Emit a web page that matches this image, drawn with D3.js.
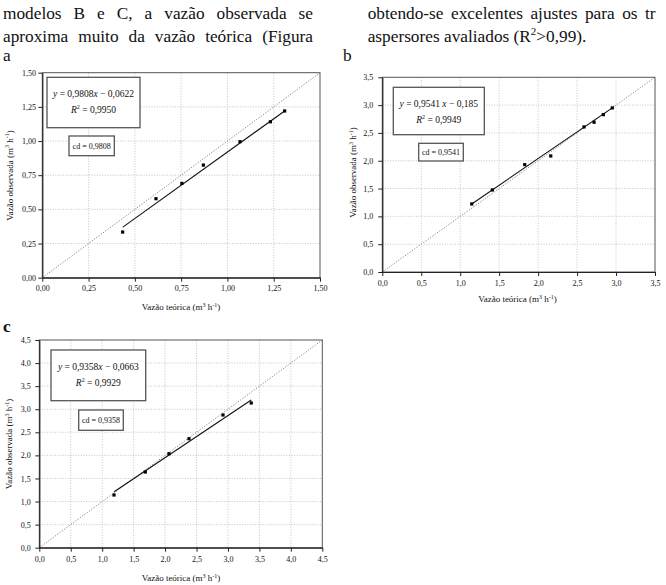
<!DOCTYPE html>
<html><head><meta charset="utf-8">
<script src="https://cdn.jsdelivr.net/npm/d3@7"></script>
<style>
body{margin:0;background:#fff}
svg{display:block}
text{font-family:"Liberation Serif","Times New Roman",serif;fill:#111}
</style>
</head><body>
<svg id="c" width="666" height="585"></svg>
<script>
// ---------- data ----------
const aTeorica   = [0.434, 0.614, 0.754, 0.870, 1.068, 1.232, 1.309];
const aObservada = [0.334, 0.578, 0.690, 0.824, 0.995, 1.141, 1.220];
const bTeorica   = [1.148, 1.412, 1.828, 2.162, 2.589, 2.718, 2.837, 2.952];
const bObservada = [1.223, 1.475, 1.930, 2.086, 2.608, 2.692, 2.829, 2.950];
const cTeorica   = [1.188, 1.685, 2.062, 2.380, 2.921, 3.370];
const cObservada = [1.142, 1.640, 2.036, 2.361, 2.875, 3.135];

// fitted line end points as drawn [x, y]
const aTrend = [[0.435, 0.370], [1.309, 1.220]];
const bTrend = [[1.148, 1.223], [2.952, 2.950]];
const cTrend = [[1.190, 1.213], [3.370, 3.200]];

const aTicks = ["0,00","0,25","0,50","0,75","1,00","1,25","1,50"];
const bTicks = ["0,0","0,5","1,0","1,5","2,0","2,5","3,0","3,5"];
const cTicks = ["0,0","0,5","1,0","1,5","2,0","2,5","3,0","3,5","4,0","4,5"];

const aEq = ["0,9808", "x", "0,0622", "0,9950", "0,9808"];
const bEq = ["0,9541", " x", "0,185",  "0,9949", "0,9541"];
const cEq = ["0,9358", "x", "0,0663", "0,9929", "0,9358"];

const leftPara  = ["modelos B e C, a vazão observada se", "aproxima muito da vazão teórica (Figura"];
const rightPara = ["obtendo-se excelentes ajustes para os tr", "aspersores avaliados (R"];
const panelLabels = ["a", "b", "c"];

// ---------- drawing ----------
const svg = d3.select("#c");
const num = s => +s.replace(",", ".");
const FS = 17.3;

function justify(line, x0, x1, y, lastStart) {
  const words = line.split(" ");
  const t = words.map(w => svg.append("text").attr("y", y).attr("font-size", FS).text(w));
  const w = t.map(s => s.node().getComputedTextLength());
  let gap;
  if (lastStart != null) gap = (lastStart - x0 - d3.sum(w.slice(0, -1))) / (words.length - 1);
  else gap = (x1 - x0 - d3.sum(w)) / (words.length - 1);
  let x = x0;
  t.forEach((s, i) => { s.attr("x", x); x += w[i] + gap; });
}

justify(leftPara[0], 3, 313, 18.5);
justify(leftPara[1], 3, 313, 41.5);
justify(rightPara[0], 367.7, null, 18.5, 645);
{
  const t = svg.append("text").attr("x", 367.7).attr("y", 41.5).attr("font-size", FS);
  t.append("tspan").text(rightPara[1]);
  t.append("tspan").attr("font-size", 11).attr("dy", -7).text("2");
  t.append("tspan").attr("dy", 7).text(">0,99).");
}
svg.append("text").attr("x", 3).attr("y", 61).attr("font-size", FS).text(panelLabels[0]);
svg.append("text").attr("x", 343).attr("y", 61).attr("font-size", FS).text(panelLabels[1]);
svg.append("text").attr("x", 3).attr("y", 332).attr("font-size", FS).attr("font-weight", "bold").text(panelLabels[2]);

const panels = [
  {xs:aTeorica, ys:aObservada, ticks:aTicks, trend:aTrend, eq:aEq,
   L:42.3, R:320, T:72.7, B:277.7, ypad:2.3, xlabDy:13.3,
   ytX:12.5, ytY:175.5, xtX:181, xtY:310,
   eqBox:[47,77.3,140,127.7], eqY:[97,113], cdBox:[69,136,114.3,155.7], cdY:148.5},
  {xs:bTeorica, ys:bObservada, ticks:bTicks, trend:bTrend, eq:bEq,
   L:382.3, R:655, T:77.3, B:272, ypad:5, xlabDy:14,
   ytX:356, ytY:172.5, xtX:517.5, xtY:302,
   eqBox:[393.3,87.3,484.3,134.7], eqY:[106.7,122.7], cdBox:[418.7,143.3,463.3,161], cdY:154.5},
  {xs:cTeorica, ys:cObservada, ticks:cTicks, trend:cTrend, eq:cEq,
   L:39.3, R:322.3, T:340, B:547.7, ypad:4.6, xlabDy:14.3,
   ytX:12, ytY:444, xtX:181, xtY:581,
   eqBox:[51,350,145.7,400.7], eqY:[370.3,386], cdBox:[78.7,410,123.3,430.3], cdY:422.5}
];

function titleText(g, x, y, label, rotate) {
  const t = g.append("text").attr("font-size", 9).attr("text-anchor", "middle")
    .attr("transform", rotate ? `translate(${x},${y}) rotate(-90)` : `translate(${x},${y})`);
  t.append("tspan").text(label + " (m");
  t.append("tspan").attr("font-size", 6).attr("dy", -3.5).text("3");
  t.append("tspan").attr("dy", 3.5).text(" h");
  t.append("tspan").attr("font-size", 6).attr("dy", -3.5).text("-1");
  t.append("tspan").attr("dy", 3.5).text(")");
}

panels.forEach(p => {
  const vals = p.ticks.map(num);
  const max = d3.max(vals);
  const x = d3.scaleLinear().domain([0, max]).range([p.L, p.R]);
  const y = d3.scaleLinear().domain([0, max]).range([p.B, p.T]);
  const g = svg.append("g");

  // grid
  g.selectAll(".gx").data(vals.slice(1, -1)).join("line")
    .attr("x1", d => x(d)).attr("x2", d => x(d)).attr("y1", p.T).attr("y2", p.B)
    .attr("stroke", "#b8b8b8").attr("stroke-width", 0.8).attr("stroke-dasharray", "1,1.6");
  g.selectAll(".gy").data(vals.slice(1, -1)).join("line")
    .attr("y1", d => y(d)).attr("y2", d => y(d)).attr("x1", p.L).attr("x2", p.R)
    .attr("stroke", "#b8b8b8").attr("stroke-width", 0.8).attr("stroke-dasharray", "1,1.6");

  // 1:1 line
  g.append("line").attr("x1", x(0)).attr("y1", y(0)).attr("x2", x(max)).attr("y2", y(max))
    .attr("stroke", "#777").attr("stroke-width", 0.9).attr("stroke-dasharray", "1.2,1.6");

  // frame
  g.append("rect").attr("x", p.L).attr("y", p.T).attr("width", p.R - p.L).attr("height", p.B - p.T)
    .attr("fill", "none").attr("stroke", "#555").attr("stroke-width", 1);

  // axes
  const ax = g.append("g").attr("transform", `translate(0,${p.B})`)
    .call(d3.axisBottom(x).tickValues(vals).tickFormat((d, i) => p.ticks[i]).tickSize(4).tickSizeOuter(0));
  ax.selectAll("text").attr("font-size", 8).attr("font-family", null).attr("y", p.xlabDy).attr("dy", 0).attr("fill", "#222");
  const ay = g.append("g").attr("transform", `translate(${p.L},0)`)
    .call(d3.axisLeft(y).tickValues(vals).tickFormat((d, i) => p.ticks[i]).tickSize(4).tickSizeOuter(0).tickPadding(p.ypad));
  ay.selectAll("text").attr("font-size", 8).attr("font-family", null).attr("fill", "#222");
  [ax, ay].forEach(a => {
    a.attr("font-family", null);
    a.select(".domain").attr("stroke", "#222").attr("stroke-width", 1.2);
    a.selectAll(".tick line").attr("stroke", "#222");
  });

  // trend line
  g.append("path").attr("d", d3.line().x(d => x(d[0])).y(d => y(d[1]))(p.trend))
    .attr("stroke", "#111").attr("stroke-width", 1.1).attr("fill", "none");

  // points
  g.selectAll(".pt").data(p.xs.map((v, i) => [v, p.ys[i]])).join("rect")
    .attr("x", d => x(d[0]) - 1.6).attr("y", d => y(d[1]) - 1.6)
    .attr("width", 3.2).attr("height", 3.2).attr("fill", "#000");

  // equation box
  const [bx0, by0, bx1, by1] = p.eqBox;
  g.append("rect").attr("x", bx0).attr("y", by0).attr("width", bx1 - bx0).attr("height", by1 - by0)
    .attr("fill", "#fff").attr("stroke", "#555").attr("stroke-width", 1.3);
  const cx = (bx0 + bx1) / 2;
  const e1 = g.append("text").attr("x", cx).attr("y", p.eqY[0]).attr("font-size", 9.5).attr("text-anchor", "middle");
  e1.append("tspan").attr("font-style", "italic").text("y");
  e1.append("tspan").text(" = " + p.eq[0]);
  e1.append("tspan").attr("font-style", "italic").text(p.eq[1]);
  e1.append("tspan").text(" \u2212 " + p.eq[2]);
  const e2 = g.append("text").attr("x", cx).attr("y", p.eqY[1]).attr("font-size", 9.5).attr("text-anchor", "middle");
  e2.append("tspan").attr("font-style", "italic").text("R");
  e2.append("tspan").attr("font-size", 6).attr("dy", -4).text("2");
  e2.append("tspan").attr("dy", 4).text(" = " + p.eq[3]);

  // cd box
  const [cx0, cy0, cx1, cy1] = p.cdBox;
  g.append("rect").attr("x", cx0).attr("y", cy0).attr("width", cx1 - cx0).attr("height", cy1 - cy0)
    .attr("fill", "#fff").attr("stroke", "#555").attr("stroke-width", 1.3);
  g.append("text").attr("x", (cx0 + cx1) / 2).attr("y", p.cdY).attr("font-size", 8)
    .attr("text-anchor", "middle").text("cd = " + p.eq[4]);

  // axis titles
  titleText(g, p.xtX, p.xtY, "Vazão teórica", false);
  titleText(g, p.ytX, p.ytY, "Vazão observada", true);
});
</script>
</body></html>
